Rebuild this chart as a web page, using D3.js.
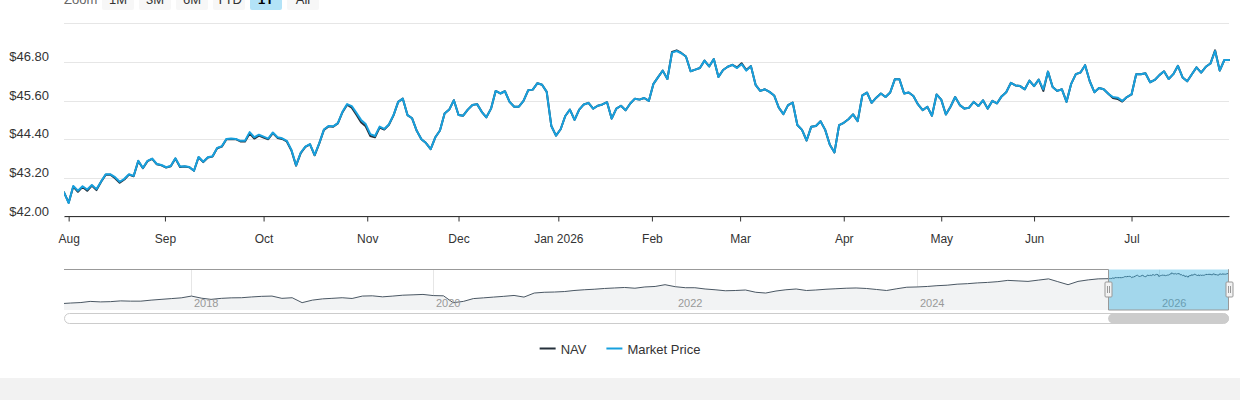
<!doctype html>
<html lang="en">
<head>
<meta charset="utf-8">
<title>NAV vs Market Price</title>
<style>
  html, body { margin: 0; padding: 0; background: #fff; }
  svg { display: block; font-family: "Liberation Sans", Arial, Helvetica, sans-serif; }
</style>
</head>
<body>
<svg id="chart" width="1240" height="400"></svg>
<script src="https://cdn.jsdelivr.net/npm/d3@7/dist/d3.min.js"></script>
<script>
// trading calendar of the visible year (weekends + exchange holidays are skipped)
var firstDay = "2025-07-31";
var lastDay = "2026-07-31";
var holidays = ["2025-09-01", "2025-11-27", "2025-12-25", "2026-01-01", "2026-01-19",
                "2026-02-16", "2026-04-03", "2026-05-25", "2026-06-19", "2026-07-03"];

// daily closing values, one per trading day
var marketPrice = [
  42.75, 42.42, 42.95, 42.80, 42.94, 42.84, 42.98, 42.85, 43.09, 43.31, 43.31, 43.22,
  43.08, 43.17, 43.31, 43.26, 43.73, 43.51, 43.73, 43.80, 43.63, 43.60, 43.53, 43.57,
  43.81, 43.55, 43.56, 43.54, 43.42, 43.85, 43.70, 43.84, 43.87, 44.13, 44.18, 44.41,
  44.42, 44.41, 44.35, 44.35, 44.62, 44.46, 44.54, 44.48, 44.42, 44.61, 44.46, 44.43,
  44.35, 44.07, 43.59, 43.98, 44.17, 44.25, 43.91, 44.28, 44.70, 44.81, 44.80, 44.90,
  45.25, 45.49, 45.43, 45.22, 45.00, 44.87, 44.56, 44.50, 44.79, 44.72, 44.86, 45.15,
  45.56, 45.66, 45.15, 45.05, 44.66, 44.40, 44.28, 44.09, 44.46, 44.67, 45.20, 45.32,
  45.61, 45.15, 45.13, 45.32, 45.46, 45.49, 45.25, 45.08, 45.35, 45.90, 45.82, 45.89,
  45.56, 45.41, 45.41, 45.59, 45.92, 45.94, 46.14, 46.09, 45.87, 44.81, 44.51, 44.71,
  45.12, 45.32, 45.00, 45.32, 45.48, 45.53, 45.35, 45.44, 45.48, 45.55, 45.04, 45.35,
  45.44, 45.30, 45.51, 45.66, 45.63, 45.68, 45.59, 46.12, 46.33, 46.53, 46.27, 47.09,
  47.14, 47.07, 46.97, 46.51, 46.56, 46.61, 46.84, 46.66, 46.89, 46.33, 46.55, 46.65,
  46.71, 46.61, 46.73, 46.53, 46.67, 46.09, 45.90, 45.95, 45.87, 45.76, 45.38, 45.18,
  45.46, 45.54, 44.84, 44.69, 44.36, 44.79, 44.81, 44.96, 44.69, 44.23, 43.99, 44.84,
  44.91, 45.02, 45.17, 44.96, 45.76, 45.85, 45.53, 45.69, 45.82, 45.71, 45.85, 46.26,
  46.26, 45.82, 45.85, 45.74, 45.48, 45.30, 45.41, 45.13, 45.79, 45.63, 45.17, 45.41,
  45.71, 45.46, 45.35, 45.38, 45.56, 45.43, 45.61, 45.35, 45.59, 45.51, 45.73, 45.86,
  46.15, 46.07, 46.05, 45.95, 46.22, 46.05, 46.25, 45.95, 46.50, 46.02, 45.90, 45.95,
  45.56, 46.12, 46.42, 46.47, 46.70, 46.20, 45.86, 45.99, 45.95, 45.81, 45.71, 45.69,
  45.59, 45.71, 45.79, 46.42, 46.42, 46.45, 46.17, 46.24, 46.39, 46.51, 46.27, 46.42,
  46.68, 46.32, 46.20, 46.42, 46.63, 46.47, 46.65, 46.75, 47.14, 46.53, 46.86, 46.86
];
var nav = [
  42.75, 42.43, 42.93, 42.77, 42.92, 42.80, 42.96, 42.82, 43.08, 43.30, 43.30, 43.19,
  43.05, 43.15, 43.30, 43.25, 43.72, 43.50, 43.72, 43.79, 43.62, 43.59, 43.52, 43.56,
  43.80, 43.54, 43.55, 43.53, 43.42, 43.84, 43.69, 43.83, 43.86, 44.12, 44.17, 44.40,
  44.41, 44.40, 44.33, 44.33, 44.58, 44.42, 44.51, 44.45, 44.40, 44.59, 44.44, 44.41,
  44.33, 44.05, 43.58, 43.97, 44.16, 44.24, 43.90, 44.27, 44.69, 44.80, 44.79, 44.89,
  45.24, 45.47, 45.38, 45.16, 44.93, 44.80, 44.50, 44.46, 44.76, 44.70, 44.85, 45.14,
  45.56, 45.66, 45.15, 45.05, 44.66, 44.40, 44.28, 44.09, 44.46, 44.67, 45.20, 45.32,
  45.61, 45.15, 45.13, 45.32, 45.46, 45.49, 45.25, 45.08, 45.35, 45.90, 45.82, 45.89,
  45.56, 45.41, 45.41, 45.59, 45.92, 45.94, 46.14, 46.09, 45.87, 44.81, 44.51, 44.71,
  45.12, 45.32, 45.00, 45.32, 45.48, 45.53, 45.35, 45.44, 45.48, 45.55, 45.04, 45.35,
  45.44, 45.30, 45.51, 45.66, 45.63, 45.68, 45.59, 46.12, 46.33, 46.53, 46.27, 47.11,
  47.16, 47.08, 46.97, 46.51, 46.56, 46.61, 46.84, 46.66, 46.89, 46.33, 46.55, 46.65,
  46.71, 46.63, 46.76, 46.55, 46.67, 46.09, 45.90, 45.95, 45.87, 45.76, 45.38, 45.18,
  45.46, 45.54, 44.84, 44.69, 44.36, 44.79, 44.81, 44.96, 44.69, 44.23, 43.99, 44.84,
  44.91, 45.02, 45.17, 44.96, 45.76, 45.85, 45.53, 45.69, 45.82, 45.71, 45.85, 46.26,
  46.26, 45.82, 45.85, 45.74, 45.48, 45.30, 45.41, 45.13, 45.79, 45.63, 45.17, 45.41,
  45.71, 45.46, 45.35, 45.38, 45.56, 45.43, 45.61, 45.35, 45.59, 45.51, 45.73, 45.86,
  46.15, 46.07, 46.05, 45.95, 46.22, 46.05, 46.25, 45.90, 46.50, 46.02, 45.90, 45.95,
  45.56, 46.12, 46.42, 46.47, 46.70, 46.20, 45.86, 45.99, 45.95, 45.81, 45.68, 45.65,
  45.57, 45.71, 45.79, 46.42, 46.42, 46.45, 46.17, 46.24, 46.39, 46.51, 46.27, 46.42,
  46.68, 46.32, 46.20, 46.42, 46.63, 46.47, 46.65, 46.75, 47.16, 46.53, 46.86, 46.86
];

// month-start values before the visible year (navigator only), Dec 2016 .. Jul 2025
var historyStart = "2016-12-01";
var historyValues = [
  23.0,
  23.5, 23.9, 24.8, 24.4, 24.6, 25.2, 25.0, 25.0, 25.8, 26.4, 27.0, 27.6,
  29.0, 27.3, 26.4, 27.2, 27.6, 27.7, 28.3, 28.8, 29.0, 27.2, 27.7, 23.8,
  25.8, 26.8, 27.2, 27.7, 27.1, 29.0, 29.2, 28.4, 29.0, 29.7, 30.0, 30.3,
  29.4, 29.2, 23.8, 24.8, 27.0, 27.6, 28.2, 28.8, 29.5, 28.2, 31.4, 32.0,
  32.2, 32.6, 33.4, 34.0, 34.4, 35.0, 35.4, 35.8, 35.2, 36.2, 36.6, 38.0,
  36.4, 35.6, 35.6, 34.6, 34.0, 33.2, 33.4, 33.8, 32.0, 31.4, 33.0, 34.0,
  34.6, 33.4, 33.8, 34.4, 34.8, 35.2, 35.4, 35.0, 34.2, 33.4, 34.8, 36.0,
  36.2, 36.6, 37.2, 37.6, 38.4, 38.8, 39.4, 39.8, 40.4, 41.4, 41.0, 40.6,
  41.6, 42.6, 40.4, 38.0, 40.6, 41.8, 42.6
];

var monthLabels = ["Aug", "Sep", "Oct", "Nov", "Dec", "Jan 2026", "Feb", "Mar", "Apr", "May", "Jun", "Jul"];
var yTicks = [42.00, 43.20, 44.40, 45.60, 46.80];
var yGrid = [42.00, 43.20, 44.40, 45.60, 46.80, 48.00];
var navigatorYears = [2018, 2020, 2022, 2024, 2026];
var zoomButtons = ["1M", "3M", "6M", "YTD", "1Y", "All"];
var selectedButton = "1Y";
var seriesNames = ["NAV", "Market Price"];

var navColor = "#25303b";
var priceColor = "#17a0de";
var textColor = "#333333";

var svg = d3.select("#chart");
var plotLeft = 64, plotRight = 1229, plotTop = 23.3, plotBottom = 216.5;
var navTop = 269.5, navBottom = 310;

var parseDay = d3.timeParse("%Y-%m-%d");
var fmtDay = d3.timeFormat("%Y-%m-%d");
var holidaySet = new Set(holidays);
var tradingDays = d3.timeDay.range(parseDay(firstDay), d3.timeDay.offset(parseDay(lastDay), 1))
  .filter(function(d){ return d.getDay() !== 0 && d.getDay() !== 6 && !holidaySet.has(fmtDay(d)); });
var N = tradingDays.length;

// ordinal axis: a calendar date sits between its neighbouring trading days
function ordinalIndex(t) {
  var k = d3.bisectRight(tradingDays, t) - 1;
  if (k < 0) return 0;
  if (k >= N - 1) return N - 1;
  return k + (t - tradingDays[k]) / (tradingDays[k + 1] - tradingDays[k]);
}

var x = d3.scaleLinear().domain([0, N - 1]).range([plotLeft, plotRight]);
var y = d3.scaleLinear().domain([42, 48]).range([plotBottom, plotTop]);
var yCrisp = y.copy().interpolate(d3.interpolateRound);

// range selector (mostly above the frame)
svg.append("text").attr("x", 64).attr("y", 4).attr("font-size", 13).attr("fill", "#666").text("Zoom");
var btn = svg.selectAll("g.btn").data(zoomButtons).enter().append("g")
  .attr("class", "btn")
  .attr("transform", function(d, i){ return "translate(" + (102 + i * 37) + ",0)"; });
btn.append("rect").attr("x", 0).attr("y", -12).attr("width", 32).attr("height", 22).attr("rx", 2)
  .attr("fill", function(d){ return d === selectedButton ? "#b3e3f7" : "#f7f7f7"; });
btn.append("text").attr("x", 16).attr("y", 4).attr("text-anchor", "middle").attr("font-size", 13)
  .attr("font-weight", function(d){ return d === selectedButton ? "bold" : "normal"; })
  .attr("fill", function(d){ return d === selectedButton ? "#000" : textColor; })
  .text(function(d){ return d; });

// gridlines
var grid = svg.append("g").attr("transform", "translate(" + plotLeft + ",0)")
  .call(d3.axisLeft(yCrisp).tickValues(yGrid).tickSize(-(plotRight - plotLeft)).tickFormat(""));
grid.select(".domain").remove();
grid.selectAll("line").attr("stroke", "#e6e6e6");

// y labels
var yAxis = svg.append("g").attr("transform", "translate(" + plotLeft + ",0)")
  .call(d3.axisLeft(yCrisp).tickValues(yTicks).tickSize(0).tickPadding(15)
    .tickFormat(function(d){ return "$" + d.toFixed(2); }));
yAxis.select(".domain").remove();
yAxis.selectAll("text").attr("font-size", 13).attr("font-family", null).attr("fill", textColor).attr("dy", -2);

// x axis with month ticks
var monthStarts = d3.timeMonth.range(d3.timeMonth.ceil(tradingDays[0]), tradingDays[N - 1]);
var xAxis = svg.append("g").attr("transform", "translate(0," + plotBottom + ")")
  .call(d3.axisBottom(x).tickValues(monthStarts.map(ordinalIndex))
    .tickFormat(function(d, i){ return monthLabels[i]; })
    .tickSize(5).tickPadding(13).tickSizeOuter(0));
xAxis.select(".domain").attr("stroke", "#333").attr("transform", "translate(0,-0.5)");
xAxis.selectAll(".tick line").attr("stroke", "#333");
xAxis.selectAll("text").attr("font-size", 12).attr("font-family", null).attr("fill", textColor);

// series
svg.append("clipPath").attr("id", "plot-clip").append("rect")
  .attr("x", plotLeft).attr("y", 0).attr("width", plotRight - plotLeft + 2).attr("height", plotBottom);
var line = d3.line().x(function(d, i){ return x(i); }).y(function(d){ return y(d); });
var plot = svg.append("g").attr("clip-path", "url(#plot-clip)");
plot.append("path").datum(nav).attr("d", line).attr("fill", "none")
  .attr("stroke", navColor).attr("stroke-width", 2).attr("stroke-linejoin", "round").attr("stroke-linecap", "round");
plot.append("path").datum(marketPrice).attr("d", line).attr("fill", "none")
  .attr("stroke", priceColor).attr("stroke-width", 2).attr("stroke-linejoin", "round").attr("stroke-linecap", "round");

// navigator
var historyDates = d3.timeMonth.range(parseDay(historyStart), d3.timeMonth.offset(parseDay(historyStart), historyValues.length));
var navSeries = historyDates.map(function(d, i){ return [d, historyValues[i]]; })
  .concat(tradingDays.map(function(d, i){ return [d, nav[i]]; }));
var navX = d3.scaleTime().domain([parseDay("2016-12-12"), tradingDays[N - 1]]).range([plotLeft, plotRight]);
var navY = d3.scaleLinear().domain([18, 50]).range([navBottom, navTop]);

svg.append("clipPath").attr("id", "nav-clip").append("rect")
  .attr("x", plotLeft).attr("y", navTop).attr("width", plotRight - plotLeft).attr("height", navBottom - navTop);
var navG = svg.append("g").attr("clip-path", "url(#nav-clip)");
navG.selectAll("line.year").data(navigatorYears).enter().append("line")
  .attr("x1", function(d){ return Math.round(navX(new Date(d, 0, 1))) + 0.5; })
  .attr("x2", function(d){ return Math.round(navX(new Date(d, 0, 1))) + 0.5; })
  .attr("y1", navTop).attr("y2", navBottom).attr("stroke", "#e6e6e6");
navG.append("path").datum(navSeries)
  .attr("d", d3.area().x(function(d){ return navX(d[0]); }).y0(navBottom).y1(function(d){ return navY(d[1]); }))
  .attr("fill", "#f2f3f4");
navG.append("path").datum(navSeries)
  .attr("d", d3.line().x(function(d){ return navX(d[0]); }).y(function(d){ return navY(d[1]); }))
  .attr("fill", "none").attr("stroke", "#4a5763").attr("stroke-width", 1);
navG.selectAll("text.year").data(navigatorYears).enter().append("text")
  .attr("x", function(d){ return Math.round(navX(new Date(d, 0, 1))) + 3; })
  .attr("y", 306.5).attr("font-size", 11).attr("fill", "#999").text(function(d){ return d; });

var zMin = navX(tradingDays[0]), zMax = navX(tradingDays[N - 1]);
svg.append("rect").attr("x", zMin).attr("y", navTop).attr("width", zMax - zMin).attr("height", navBottom - navTop)
  .attr("fill", "rgba(16,163,222,0.35)");
svg.append("path")
  .attr("d", "M" + plotLeft + "," + navTop + "H" + (Math.round(zMin) + 0.5) + "V" + navBottom +
             "H" + (Math.round(zMax) - 0.5) + "V" + navTop + "H" + plotRight)
  .attr("fill", "none").attr("stroke", "#999");

var handles = svg.selectAll("g.handle").data([zMin, zMax]).enter().append("g")
  .attr("class", "handle").attr("transform", function(d){ return "translate(" + (Math.round(d) + 0.5) + ",282)"; });
handles.append("rect").attr("x", -3.5).attr("y", 0).attr("width", 7).attr("height", 15).attr("rx", 1)
  .attr("fill", "#f2f2f2").attr("stroke", "#999");
handles.append("path").attr("d", "M-1,4V11M1,4V11").attr("stroke", "#999");

// scrollbar
svg.append("rect").attr("x", plotLeft + 0.5).attr("y", 313.5).attr("width", plotRight - plotLeft - 1).attr("height", 10).attr("rx", 5)
  .attr("fill", "#fff").attr("stroke", "#ccc");
svg.append("rect").attr("x", zMin).attr("y", 313.5).attr("width", zMax - zMin).attr("height", 10).attr("rx", 5)
  .attr("fill", "#cccccc");

// legend
var legendColors = [navColor, priceColor];
var legend = svg.append("g");
var cursor = 0;
seriesNames.forEach(function(name, i){
  var item = legend.append("g").attr("transform", "translate(" + cursor + ",0)");
  item.append("line").attr("x1", 0).attr("x2", 16).attr("y1", 0).attr("y2", 0)
    .attr("stroke", legendColors[i]).attr("stroke-width", 2);
  var t = item.append("text").attr("x", 21).attr("y", 5).attr("font-size", 13).attr("fill", textColor).text(name);
  cursor += 21 + t.node().getComputedTextLength() + 20;
});
legend.attr("transform", "translate(" + (620 - (cursor - 20) / 2) + ",348.5)");

// page footer band
svg.append("rect").attr("x", 0).attr("y", 378).attr("width", 1240).attr("height", 22).attr("fill", "#f2f2f2");
</script>
</body>
</html>
